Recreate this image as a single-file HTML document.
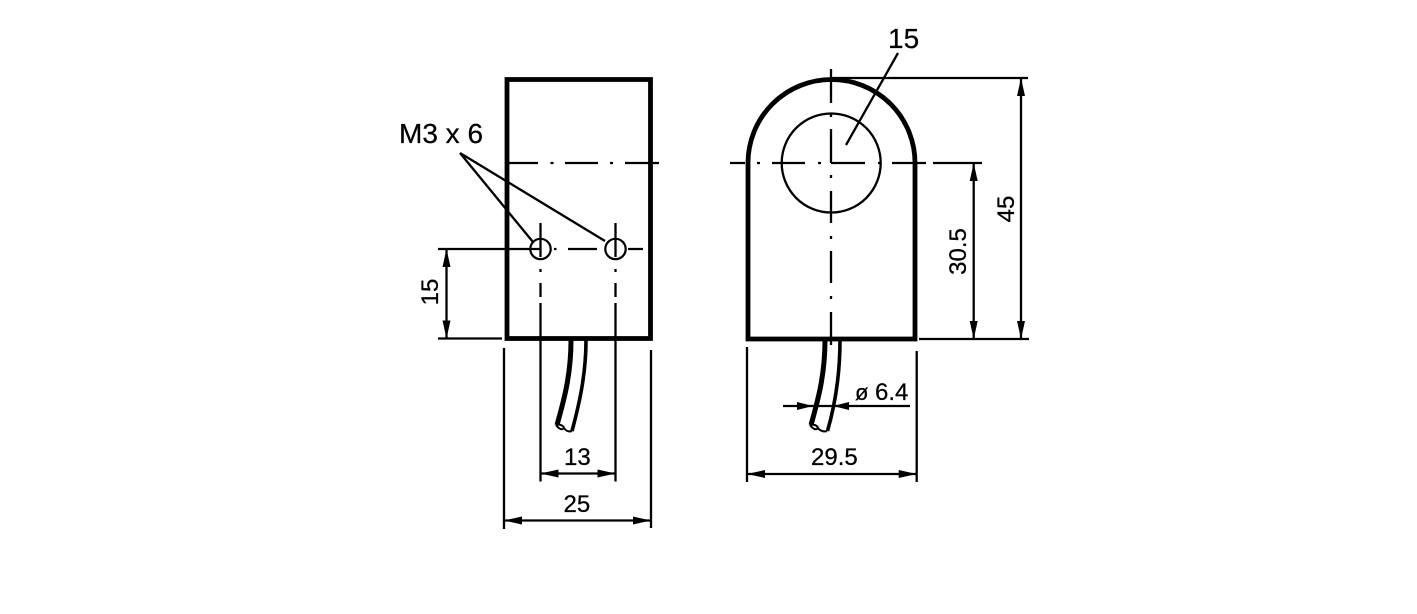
<!DOCTYPE html>
<html>
<head>
<meta charset="utf-8">
<style>
html,body{margin:0;padding:0;background:#fff;width:1417px;height:614px;overflow:hidden}
svg{display:block}
text{font-family:"Liberation Sans",sans-serif;fill:#000;font-size:24px;stroke:#000;stroke-width:.25}
.t{fill:none;stroke:#000;stroke-width:2.3}
.m{fill:none;stroke:#000;stroke-width:2.2}
.k{fill:none;stroke:#000;stroke-width:4.8}
.a{fill:#000;stroke:none}
</style>
</head>
<body>
<svg width="1417" height="614" viewBox="0 0 1417 614" xmlns="http://www.w3.org/2000/svg">
<!-- left view -->
<rect class="k" x="507" y="79.5" width="143.5" height="259"/>
<path class="t" d="M508 163H538M550.5 163H553.5M565 163H598M610 163H613M625 163H659"/>
<circle class="m" cx="540.5" cy="249" r="10.2"/>
<circle class="m" cx="615.5" cy="249" r="10.2"/>
<path class="t" d="M540.5 223V257M540.5 269V272M540.5 283V297M540.5 303V481.5"/>
<path class="t" d="M615.5 223V257M615.5 269V272M615.5 283V297M615.5 303V481.5"/>
<path class="t" d="M438 249H540M554 249H556.5M568 249H597M628 249H643"/>
<path class="t" d="M460 153L533 242M460 153L605 241"/>
<path class="t" d="M446.5 249V338M438 338.5H502"/>
<path class="a" d="M446.5 249L450.5 267H442.5ZM446.5 338.5L450.5 320.5H442.5Z"/>
<!-- left cable -->
<path d="M571 340C571 375 564 400 557 425" fill="none" stroke="#000" stroke-width="5"/>
<path d="M586 340C586 375 579 405 572 431" fill="none" stroke="#000" stroke-width="3.6"/>
<path d="M556 425C559 424 563 425 564 428C562 431 558 428 556 425M564 428C566 431 569 432 572 431" fill="none" stroke="#000" stroke-width="2"/>
<!-- left bottom dims -->
<path class="t" d="M504 348V529M651 350V528"/>
<path class="t" d="M540.5 473.5H615.5M504 520.5H651"/>
<path class="a" d="M540.5 473.5L558.5 469.5V477.5ZM615.5 473.5L597.5 469.5V477.5ZM504 520.5L522 516.5V524.5ZM651 520.5L633 516.5V524.5Z"/>
<!-- right view -->
<path class="k" d="M748 163A83.5 83.5 0 0 1 915 163V339H748Z"/>
<circle class="t" cx="831.2" cy="163" r="49.5"/>
<path class="t" d="M831 69V103M831 114V117M831 129V163M831 175V178M831 191V223M831 236V239M831 251V283M831 296V299M831 312V345"/>
<path class="t" d="M730 163H745M757 163H760M772 163H805M818 163H821M831 163H865M878 163H881M892 163H926M933 163H982"/>
<path class="t" d="M898 53L846 145"/>
<path class="t" d="M831 78H1028M919 339H1029M1021 78V339M973.7 163V339"/>
<path class="a" d="M1021 78L1025 96H1017ZM1021 339L1025 321H1017ZM973.7 163L977.7 181H969.7ZM973.7 339L977.7 321H969.7Z"/>
<!-- right cable -->
<path d="M825 340C825 375 818 400 811 425" fill="none" stroke="#000" stroke-width="5"/>
<path d="M840 340C840 375 835 405 827.5 431" fill="none" stroke="#000" stroke-width="3.6"/>
<path d="M810 425C813 424 817 425 818 428C816 431 812 428 810 425M818 428C820 431 824 432 827 431" fill="none" stroke="#000" stroke-width="2"/>
<!-- right bottom dims -->
<path class="t" d="M783 406H910"/>
<path class="a" d="M813 406L797 402V410ZM833 406L849 402V410Z"/>
<path class="t" d="M747 347V482M916.7 351V482M747 474H916.7"/>
<path class="a" d="M747 474L765 470V478ZM916.7 474L898.7 470V478Z"/>
<!-- labels -->
<text x="399" y="143" style="font-size:28px">M3 x 6</text>
<text x="888" y="48" style="font-size:28px">15</text>
<text x="564" y="465">13</text>
<text x="563.5" y="512">25</text>
<text x="811" y="465">29.5</text>
<text x="855" y="400"><tspan style="font-size:22px">ø</tspan></text>
<text x="875" y="400">6.4</text>
<text transform="translate(438 292) rotate(-90)" text-anchor="middle">15</text>
<text transform="translate(966 251.5) rotate(-90)" text-anchor="middle">30.5</text>
<text transform="translate(1014 209) rotate(-90)" text-anchor="middle">45</text>
</svg>
</body>
</html>
